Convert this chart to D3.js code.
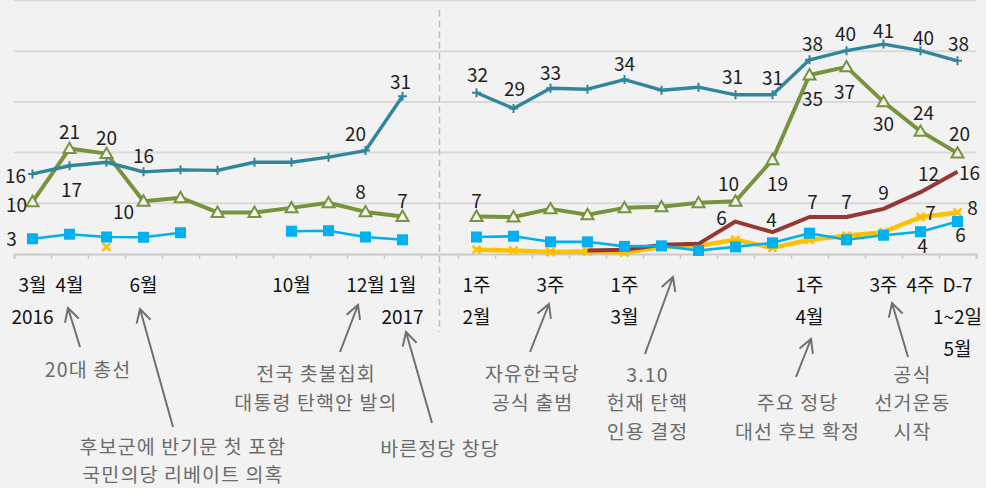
<!DOCTYPE html>
<html>
<head>
<meta charset="utf-8">
<script src="https://cdn.jsdelivr.net/npm/d3@7"></script>
<style>
  html, body { margin: 0; padding: 0; background: #f2f2f2; }
  svg { display: block; font-family: "Noto Sans CJK KR", "Noto Sans", sans-serif; }
</style>
</head>
<body>
<svg id="chart" width="986" height="488"></svg>
<script>
// 2016.3 ~ 2017.5 차기 대선 후보 선호도 — monthly (2016) then weekly (2017)
const categories = ["16.3","16.4","16.5","16.6","16.7","16.8","16.9","16.10","16.11","16.12","17.1","gap",
  "2.1","2.2","2.3","2.4","3.1","3.2","3.3","3.4","3.5","4.1","4.2","4.3","4.4","D-7"];

const tickRow1 = ["3월","4월","","6월","","","","10월","","12월","1월","",
  "1주","","3주","","1주","","","","","1주","","3주","4주","D-7"];
const tickRow2 = ["2016","","","","","","","","","","2017","",
  "2월","","","","3월","","","","","4월","","","","1~2일"];
const tickRow3 = ["","","","","","","","","","","","",
  "","","","","","","","","","","","","","5월"];

// series values (%), null = not asked
const moon = [15.8, 17.4, 18.1, 16.2, 16.6, 16.5, 18.1, 18.1, 19.1, 20.4, 31.1, null,
  31.8, 28.7, 32.7, 32.5, 34.4, 32.3, 32.9, 31.4, 31.4, 38.3, 40.1, 41.4, 40.1, 38.1];
const ahn = [10.3, 20.8, 19.8, 10.4, 11.1, 8.2, 8.2, 9.1, 10.1, 8.3, 7.4, null,
  7.4, 7.3, 8.9, 7.75, 9.1, 9.3, 10.1, 10.4, 18.6, 35.3, 36.9, 30.0, 24.2, 19.9];
const yoo = [3.0, 3.9, 3.35, 3.3, 4.2, null, null, 4.5, 4.6, 3.35, 2.8, null,
  3.35, 3.5, 2.4, 2.4, 1.5, 1.6, 0.7, 1.4, 2.2, 4.1, 2.8, 3.7, 4.4, 6.4];
const sim = [null, null, 1.4, null, null, null, null, null, null, null, null, null,
  0.85, 0.7, 0.4, 0.5, 0.3, 1.4, 1.6, 2.8, 1.2, 2.8, 3.6, 4.3, 7.3, 8.2];
const hong = [null, null, null, null, null, null, null, null, null, null, null, null,
  null, null, null, 0.7, 0.85, 1.8, 2.0, 6.4, 4.3, 7.3, 7.3, 8.9, 12.2, 16.2];

// labelled points: [index, dx, dy] from the point to the label centre
const moonLabels = [[0,-17,1],[1,2,23],[3,0,-17],[9,-10,-18],[10,-2,-16],
  [12,1,-19],[13,1,-21],[14,0,-17],[16,0,-17],[19,-3,-19],[20,0,-18],
  [21,3,-17],[22,-1,-18],[23,0,-15],[24,3,-14],[25,1,-18]];
const ahnLabels = [[0,-16,2],[1,0,-18],[2,0,-17],[3,-20,9],[9,-5,-21],[10,0,-17],
  [12,0,-17],[19,-7,-19],[20,5,23],[21,3,22],[22,-2,24],[23,0,21],[24,3,-20],[25,2,-21]];
const yooLabels = [[0,-21,-1],[24,2,13],[25,3,12]];
const simLabels = [[24,10,-5],[25,15,-6]];
const hongLabels = [[19,-14,-5],[20,-1,-14],[21,3,-16],[22,0,-16],[23,0,-17],[24,8,-20],[25,12,0]];

const gridValues = [10, 20, 30, 40, 50];

// events under the axis: category, arrow tip / tail and text (x relative to category centre)
const notes = [
  { cat: 1,  lines: ["20대 총선"], tip: [-1.5, 308], tail: [10.5, 347], tx: 18.5, ys: [368] },
  { cat: 3,  lines: ["후보군에 반기문 첫 포함", "국민의당 리베이트 의혹"], tip: [-3.5, 309], tail: [29.5, 427], tx: 39.5, ys: [445, 473.5] },
  { cat: 9,  lines: ["전국 촛불집회", "대통령 탄핵안 발의"], tip: [-7.5, 305], tail: [-25.5, 352], tx: -49.5, ys: [372.5, 401] },
  { cat: 10, lines: ["바른정당 창당"], tip: [3.5, 332], tail: [29.5, 423], tx: 37.5, ys: [447] },
  { cat: 14, lines: ["자유한국당", "공식 출범"], tip: [-1.5, 304], tail: [-20.5, 352], tx: -18, ys: [372.5, 401] },
  { cat: 17, lines: ["3.10", "헌재 탄핵", "인용 결정"], tip: [11.5, 277], tail: [-16.5, 354], tx: -14, ys: [373, 401.5, 430] },
  { cat: 21, lines: ["주요 정당", "대선 후보 확정"], tip: [1.5, 339], tail: [-13.5, 377], tx: -12, ys: [401.5, 430] },
  { cat: 23, lines: ["공식", "선거운동", "시작"], tip: [8.5, 303], tail: [24.5, 357], tx: 29, ys: [373, 401.5, 430] },
];

const W = 986, H = 488;
const svg = d3.select("#chart");

const x = d3.scaleBand().domain(categories).range([14, 976]).padding(0);
const cx = (i) => x(categories[i]) + x.bandwidth() / 2;
const y = d3.scaleLinear().domain([0, 50]).range([254, 0.5]);

svg.append("rect").attr("width", W).attr("height", H).attr("fill", "#f2f2f2");

// gridlines
svg.append("g").selectAll("line").data(gridValues).join("line")
  .attr("x1", 14).attr("x2", 976)
  .attr("y1", (d) => y(d)).attr("y2", (d) => y(d))
  .attr("stroke", "#d9d9d9").attr("stroke-width", 2);

// x axis — ticks sit on the band edges
const edge = d3.scaleLinear().domain([0, categories.length]).range(x.range());
const gAxis = svg.append("g").attr("transform", `translate(0,${y(0)})`)
  .call(d3.axisBottom(edge).ticks(categories.length).tickSize(5).tickSizeOuter(5).tickFormat(""));
gAxis.select(".domain").attr("stroke", "#c9c9c9").attr("stroke-width", 2);
gAxis.selectAll(".tick line").attr("stroke", "#c9c9c9").attr("stroke-width", 1.5);

// year split
svg.append("line")
  .attr("x1", cx(11)).attr("x2", cx(11)).attr("y1", 10).attr("y2", 332)
  .attr("stroke", "#bdbdbd").attr("stroke-width", 1.5).attr("stroke-dasharray", "6.5 4.2");

// tick label rows
[[tickRow1, 283.5], [tickRow2, 315], [tickRow3, 347]].forEach(([row, ty]) => {
  svg.append("g").selectAll("text").data(row.map((t, i) => ({ t, i })).filter((d) => d.t))
    .join("text")
    .attr("x", (d) => cx(d.i)).attr("y", ty)
    .attr("text-anchor", "middle").attr("dominant-baseline", "central")
    .attr("font-size", 19).attr("fill", "#111")
    .text((d) => d.t);
});

// annotations
const gNotes = svg.append("g");
notes.forEach((n) => {
  const c = cx(n.cat);
  const tip = [c + n.tip[0], n.tip[1]];
  const tail = [c + n.tail[0], n.tail[1]];
  const ang = Math.atan2(tip[1] - tail[1], tip[0] - tail[0]);
  const head = 15, spread = 0.5;
  const a1 = [tip[0] - head * Math.cos(ang - spread), tip[1] - head * Math.sin(ang - spread)];
  const a2 = [tip[0] - head * Math.cos(ang + spread), tip[1] - head * Math.sin(ang + spread)];
  gNotes.append("path")
    .attr("d", `M${tail}L${tip}M${a1}L${tip}L${a2}`)
    .attr("fill", "none").attr("stroke", "#707070").attr("stroke-width", 2);
  n.lines.forEach((ln, k) => {
    gNotes.append("text")
      .attr("x", c + n.tx).attr("y", n.ys[k])
      .attr("text-anchor", "middle").attr("dominant-baseline", "central")
      .attr("font-size", 19.5).attr("letter-spacing", 1.1).attr("fill", "#6b6b6b")
      .text(ln);
  });
});

const series = [
  { key: "sim",  values: sim,  color: "#ffc000", width: 4.5, marker: "x",        labels: simLabels },
  { key: "hong", values: hong, color: "#953735", width: 4,   marker: null,       labels: hongLabels },
  { key: "yoo",  values: yoo,  color: "#00b0f0", width: 2.6, marker: "square",   labels: yooLabels },
  { key: "ahn",  values: ahn,  color: "#77933c", width: 4,   marker: "triangle", labels: ahnLabels },
  { key: "moon", values: moon, color: "#31859c", width: 3.4, marker: "plus",     labels: moonLabels },
];

const line = d3.line()
  .defined((d) => d.v != null)
  .x((d) => cx(d.i)).y((d) => y(d.v));

const tri = d3.symbol(d3.symbolTriangle, 62)();

series.forEach((s) => {
  const pts = s.values.map((v, i) => ({ v, i }));
  const g = svg.append("g");
  g.append("path").datum(pts)
    .attr("d", line)
    .attr("fill", "none").attr("stroke", s.color).attr("stroke-width", s.width)
    .attr("stroke-linejoin", "round");
  const on = pts.filter((d) => d.v != null);
  const m = g.selectAll("g.m").data(on).join("g")
    .attr("transform", (d) => `translate(${cx(d.i)},${y(d.v)})`);
  if (s.marker === "plus") {
    m.append("path").attr("d", "M-4.5,0H4.5M0,-4.5V4.5").attr("stroke", s.color).attr("stroke-width", 2);
  } else if (s.marker === "triangle") {
    m.append("path").attr("d", tri).attr("transform", "translate(0,1)")
      .attr("fill", "#f2f2f2").attr("stroke", s.color).attr("stroke-width", 2);
  } else if (s.marker === "square") {
    m.append("rect").attr("x", -5.5).attr("y", -5.5).attr("width", 11).attr("height", 11).attr("fill", s.color);
  } else if (s.marker === "x") {
    m.append("path").attr("d", "M-4,-4L4,4M-4,4L4,-4").attr("stroke", s.color).attr("stroke-width", 2.6);
  }
});

// value labels on top
const gLabels = svg.append("g");
series.forEach((s) => {
  gLabels.selectAll(null).data(s.labels).join("text")
    .attr("x", ([i, dx]) => cx(i) + dx)
    .attr("y", ([i, , dy]) => y(s.values[i]) + dy)
    .attr("text-anchor", "middle").attr("dominant-baseline", "central")
    .attr("font-size", 19).attr("fill", "#1e1e1e")
    .text(([i]) => Math.round(s.values[i]));
});
</script>
</body>
</html>
